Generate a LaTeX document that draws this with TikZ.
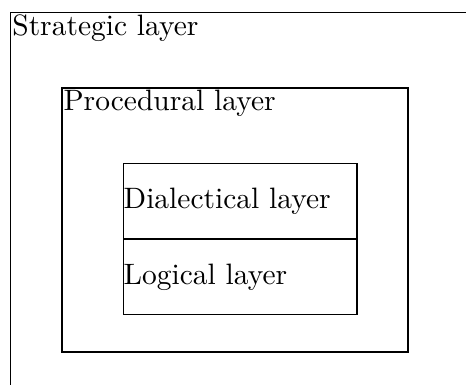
\documentclass[tikz,border=0pt]{standalone}
\usepackage{tikz}
\usetikzlibrary{positioning}

\begin{document}
\begin{tikzpicture}[
		x=0.339pt, y=-0.339pt,
		node distance=0pt,
		layer/.style={rectangle, draw, line width=0.5pt, inner sep=0pt},
		tag/.style={anchor=north west, inner sep=0.6pt},
		cell/.style={rectangle, draw, line width=0.5pt, text width=79pt, minimum height=25.4pt, align=left, inner xsep=0pt, inner ysep=0pt}
		]
		
		\clip (0,0) rectangle (466,385);
		
		% Outer layer (cut off at right and bottom)
		\node[layer, anchor=north west, minimum width=170pt, minimum height=140pt] (strategic) at (10,12) {};
		\node[tag] (strategictag) at (strategic.north west) {Strategic layer};
		
		% Middle layer
		\node[layer, minimum width=117.3pt, minimum height=89.5pt] (procedural) at (235,220) {};
		\node[tag] (proceduraltag) at (procedural.north west) {Procedural layer};
		
		% Inner stack
		\node[cell, anchor=south west] (dialectical) at (123,239) {Dialectical layer};
		\node[cell, below=of dialectical] (logical) {Logical layer};
		
	\end{tikzpicture}
\end{document}
